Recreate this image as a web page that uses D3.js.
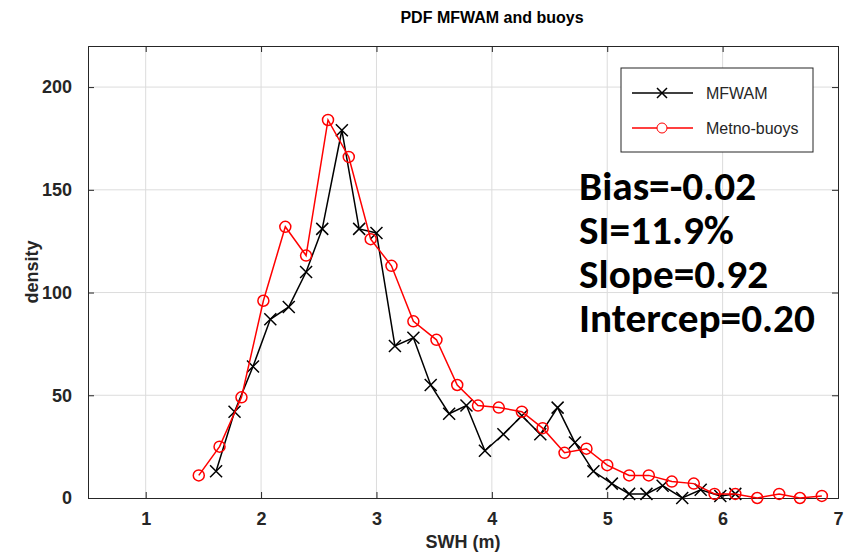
<!DOCTYPE html>
<html lang="en">
<head>
    <meta charset="utf-8">
    <title>PDF MFWAM and buoys</title>
    <style>
        body { margin: 0; background: #fff; }
        svg { display: block; font-family: "Liberation Sans", Arial, sans-serif; }
    </style>
</head>
<body>
    <div id="container"></div>

    <script src="https://cdn.jsdelivr.net/npm/d3@7"></script>
    <script>
        // Data
        const mfwamX = [1.61, 1.77, 1.93, 2.08, 2.24, 2.39, 2.53, 2.70, 2.85, 3.00,
                        3.16, 3.32, 3.47, 3.63, 3.78, 3.94, 4.10, 4.26, 4.42, 4.57,
                        4.72, 4.88, 5.04, 5.19, 5.34, 5.48, 5.65, 5.81, 5.98, 6.11];
        const mfwamY = [13, 42, 64, 87, 93, 110, 131, 179, 131, 129,
                        74, 78, 55, 41, 45, 23, 31, 40, 31, 44,
                        27, 13, 7, 2, 2, 6, 0, 4, 1, 2];

        const buoyX = [1.46, 1.64, 1.83, 2.02, 2.21, 2.39, 2.58, 2.76, 2.95, 3.13,
                       3.32, 3.52, 3.70, 3.88, 4.06, 4.26, 4.44, 4.63, 4.82, 5.00,
                       5.19, 5.36, 5.56, 5.75, 5.93, 6.11, 6.30, 6.49, 6.67, 6.86];
        const buoyY = [11, 25, 49, 96, 132, 118, 184, 166, 126, 113,
                       86, 77, 55, 45, 44, 42, 34, 22, 24, 16,
                       11, 11, 8, 7, 2, 2, 0, 2, 0, 1];

        const xTicks = [1, 2, 3, 4, 5, 6, 7];
        const yTicks = [0, 50, 100, 150, 200];
        const seriesNames = ["MFWAM", "Metno-buoys"];
        const statLines = ["Bias=-0.02", "SI=11.9%", "Slope=0.92", "Intercep=0.20"];

        // Chart dimensions and margins
        const width = 850;
        const height = 553;
        const marginTop = 46;
        const marginRight = 12;
        const marginBottom = 55;
        const marginLeft = 88;
        const axisColor = "#262626";

        const svg = d3.select("#container").append("svg")
            .attr("width", width)
            .attr("height", height);

        svg.append("rect")
            .attr("width", width)
            .attr("height", height)
            .attr("fill", "#fff");

        const x = d3.scaleLinear()
            .domain([0.5, 7])
            .range([marginLeft, width - marginRight]);

        const y = d3.scaleLinear()
            .domain([0, 220])
            .range([height - marginBottom, marginTop]);

        // Grid lines
        const grid = svg.append("g").attr("stroke", "#dcdcdc").attr("stroke-width", 1);
        grid.selectAll(".gx")
            .data(xTicks.filter(t => t < 7))
            .enter().append("line")
            .attr("x1", d => x(d)).attr("x2", d => x(d))
            .attr("y1", y(220)).attr("y2", y(0));
        grid.selectAll(".gy")
            .data(yTicks.filter(t => t > 0))
            .enter().append("line")
            .attr("x1", x(0.5)).attr("x2", x(7))
            .attr("y1", d => y(d)).attr("y2", d => y(d));

        // Axes (ticks pointing inward, like MATLAB)
        svg.append("g")
            .attr("transform", `translate(0,${y(0)})`)
            .call(d3.axisBottom(x).tickValues(xTicks).tickFormat(d3.format("d"))
                .tickSize(-6).tickPadding(14));
        svg.append("g")
            .attr("transform", `translate(${x(0.5)},0)`)
            .call(d3.axisLeft(y).tickValues(yTicks).tickSize(-6).tickPadding(16));
        // top and right ticks
        svg.append("g")
            .attr("transform", `translate(0,${y(220)})`)
            .call(d3.axisTop(x).tickValues(xTicks).tickSize(-6).tickFormat(""));
        svg.append("g")
            .attr("transform", `translate(${x(7)},0)`)
            .call(d3.axisRight(y).tickValues(yTicks).tickSize(-6).tickFormat(""));

        svg.selectAll(".domain, .tick line").attr("stroke", axisColor);
        svg.selectAll(".tick text")
            .attr("fill", axisColor)
            .attr("font-size", 18)
            .attr("font-weight", "bold")
            .attr("font-family", "Liberation Sans, Arial, sans-serif");

        // Axis labels and title
        svg.append("text")
            .attr("x", (x(0.5) + x(7)) / 2)
            .attr("y", 548)
            .attr("text-anchor", "middle")
            .attr("font-size", 18)
            .attr("font-weight", "bold")
            .attr("fill", axisColor)
            .text("SWH (m)");

        svg.append("text")
            .attr("transform", `translate(38,${(y(0) + y(220)) / 2}) rotate(-90)`)
            .attr("text-anchor", "middle")
            .attr("font-size", 18)
            .attr("font-weight", "bold")
            .attr("fill", axisColor)
            .text("density");

        svg.append("text")
            .attr("x", 492)
            .attr("y", 23)
            .attr("text-anchor", "middle")
            .attr("font-size", 16)
            .attr("font-weight", "bold")
            .attr("fill", "#000")
            .text("PDF MFWAM and buoys");

        // Lines and markers
        const line = d3.line().x(d => x(d[0])).y(d => y(d[1]));
        const mfwam = mfwamX.map((v, i) => [v, mfwamY[i]]);
        const buoys = buoyX.map((v, i) => [v, buoyY[i]]);

        function drawCross(sel, cx, cy, s) {
            sel.append("path")
                .attr("d", `M${cx - s},${cy - s}L${cx + s},${cy + s}M${cx - s},${cy + s}L${cx + s},${cy - s}`)
                .attr("stroke", "#000")
                .attr("stroke-width", 1.5)
                .attr("fill", "none");
        }

        const g1 = svg.append("g");
        g1.append("path")
            .datum(mfwam)
            .attr("d", line)
            .attr("fill", "none")
            .attr("stroke", "#000")
            .attr("stroke-width", 1.5);
        mfwam.forEach(d => drawCross(g1, x(d[0]), y(d[1]), 6));

        const g2 = svg.append("g");
        g2.append("path")
            .datum(buoys)
            .attr("d", line)
            .attr("fill", "none")
            .attr("stroke", "#ff0000")
            .attr("stroke-width", 1.5);
        g2.selectAll("circle")
            .data(buoys)
            .enter().append("circle")
            .attr("cx", d => x(d[0]))
            .attr("cy", d => y(d[1]))
            .attr("r", 5.5)
            .attr("fill", "none")
            .attr("stroke", "#ff0000")
            .attr("stroke-width", 1.5);

        // Legend
        const legend = svg.append("g");
        legend.append("rect")
            .attr("x", 621).attr("y", 68)
            .attr("width", 192).attr("height", 84)
            .attr("fill", "#fff")
            .attr("stroke", axisColor)
            .attr("stroke-width", 1);
        [0, 1].forEach(i => {
            const ly = 93 + i * 35;
            legend.append("line")
                .attr("x1", 632).attr("x2", 693)
                .attr("y1", ly).attr("y2", ly)
                .attr("stroke", i === 0 ? "#000" : "#ff0000")
                .attr("stroke-width", 1.5);
            if (i === 0) {
                drawCross(legend, 662, ly, 5);
            } else {
                legend.append("circle")
                    .attr("cx", 662).attr("cy", ly).attr("r", 5)
                    .attr("fill", "#fff")
                    .attr("stroke", "#ff0000")
                    .attr("stroke-width", 1);
            }
            legend.append("text")
                .attr("x", 706).attr("y", ly + 6)
                .attr("font-size", 16)
                .attr("fill", axisColor)
                .text(seriesNames[i]);
        });

        // Statistics text
        const stats = svg.append("g")
            .attr("font-family", "Carlito, Calibri, Lato, sans-serif")
            .attr("font-weight", "bold")
            .attr("fill", "#000");
        const statText = stats.selectAll("text")
            .data(statLines)
            .enter().append("text")
            .attr("x", 579)
            .attr("y", (d, i) => 200 + i * 44)
            .attr("font-size", 36)
            .text(d => d);
        // shrink font so the widest line fits the same width as in the figure
        const widest = statText.nodes()[3].getComputedTextLength();
        const fitSize = 36 * 236 / widest;
        statText.attr("font-size", fitSize);
    </script>
</body>
</html>
